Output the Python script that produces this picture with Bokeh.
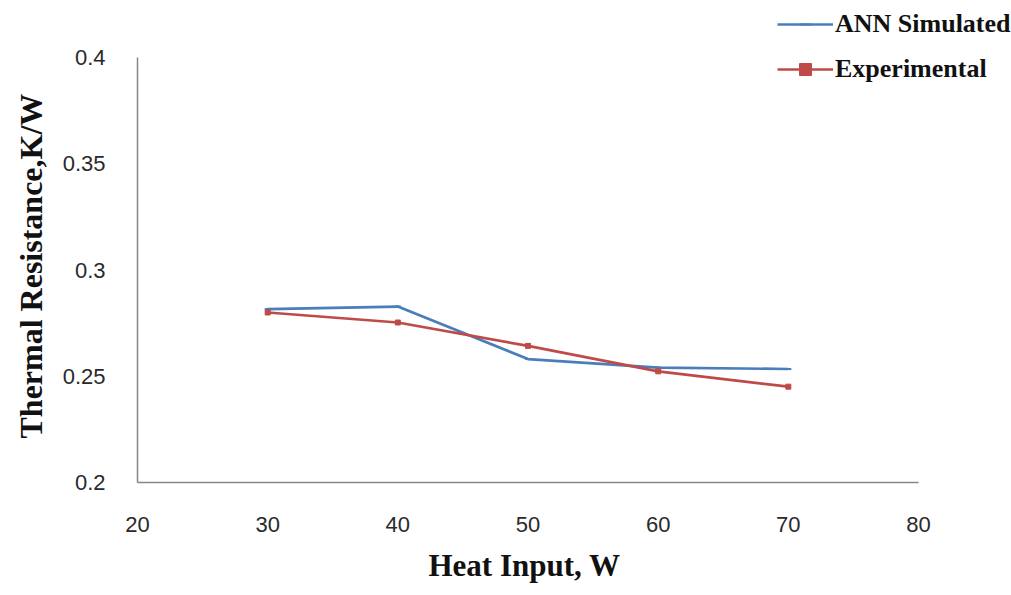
from bokeh.plotting import figure
from bokeh.models import FixedTicker, Legend, LegendItem, Title
from bokeh.embed import file_html
from bokeh.resources import INLINE

heat_input = [30, 40, 50, 60, 70]
ann_simulated = [0.2816, 0.2828, 0.2581, 0.2541, 0.2534]
experimental = [0.2800, 0.2753, 0.2643, 0.2523, 0.2451]
x_ticks = [20, 30, 40, 50, 60, 70, 80]
y_ticks = [0.2, 0.25, 0.3, 0.35, 0.4]
y_tick_labels = ["0.2", "0.25", "0.3", "0.35", "0.4"]
x_title = "Heat Input, W"
y_title = "Thermal Resistance,K/W"

# layout (pixels): axes box from x=137..918, y=57..482 in a 1011x595 canvas
W, H = 1011, 595
box_left, box_right, box_top, box_bottom = 137, 918, 57, 482
x0, x1 = x_ticks[0], x_ticks[-1]
y0, y1 = y_ticks[0], y_ticks[-1]
x_end = x1 + (x1 - x0) * (W - box_right) / (box_right - box_left)
y_end = y1 + (y1 - y0) * box_top / (box_bottom - box_top)

p = figure(width=W, height=H, output_backend="svg", toolbar_location=None,
           x_range=(x0, x_end), y_range=(y0, y_end),
           min_border_left=box_left, min_border_right=0, min_border_top=0,
           min_border_bottom=H - box_bottom)
p.grid.visible = False
p.outline_line_color = None
p.background_fill_color = "white"
p.border_fill_color = "white"

blue = "#4A7EBB"
red = "#BE4B48"
l1 = p.line(heat_input, ann_simulated, line_color=blue, line_width=2.7)
s1 = p.scatter(heat_input, ann_simulated, marker="dash", size=6, line_color=blue, line_width=2)
l2 = p.line(heat_input, experimental, line_color=red, line_width=2.7)
s2 = p.scatter(heat_input, experimental, marker="square", size=5, fill_color=red, line_color=red)

p.xaxis.ticker = FixedTicker(ticks=x_ticks)
p.yaxis.ticker = FixedTicker(ticks=y_ticks)
p.yaxis.major_label_overrides = {t: s for t, s in zip(y_ticks, y_tick_labels)}
p.xaxis.bounds = (x0, x1)
p.yaxis.bounds = (y0, y1)

for ax in (p.xaxis[0], p.yaxis[0]):
    ax.axis_line_color = "#868686"
    ax.axis_line_width = 1.5
    ax.major_tick_line_color = None
    ax.minor_tick_line_color = None
    ax.major_label_text_font = "Liberation Sans"
    ax.major_label_text_font_size = "22px"
    ax.major_label_text_color = "#2a2a2a"

p.yaxis.major_label_standoff = 26
p.xaxis.major_label_standoff = 28

title_style = dict(text_font="Liberation Serif", text_font_style="bold",
                   text_color="#111111")
p.add_layout(Title(text=x_title, align="left", offset=291, vertical_align="bottom",
                   standoff=22, text_font_size="31px", **title_style), "below")
p.add_layout(Title(text=y_title, align="left", offset=44, vertical_align="top",
                   standoff=18, text_font_size="32px", **title_style), "left")

legend = Legend(items=[LegendItem(label="ANN Simulated", renderers=[l1, s1]),
                       LegendItem(label="Experimental", renderers=[l2, s2])],
                location=(640, 398), orientation="vertical",
                glyph_width=56, glyph_height=30, label_standoff=2, spacing=15,
                label_text_font="Liberation Serif", label_text_font_style="bold",
                label_text_font_size="26px", label_text_color="#111111",
                background_fill_alpha=0, border_line_color=None, padding=0, margin=0)
p.add_layout(legend, "center")

open("out.html", "w").write(file_html(p, INLINE))
